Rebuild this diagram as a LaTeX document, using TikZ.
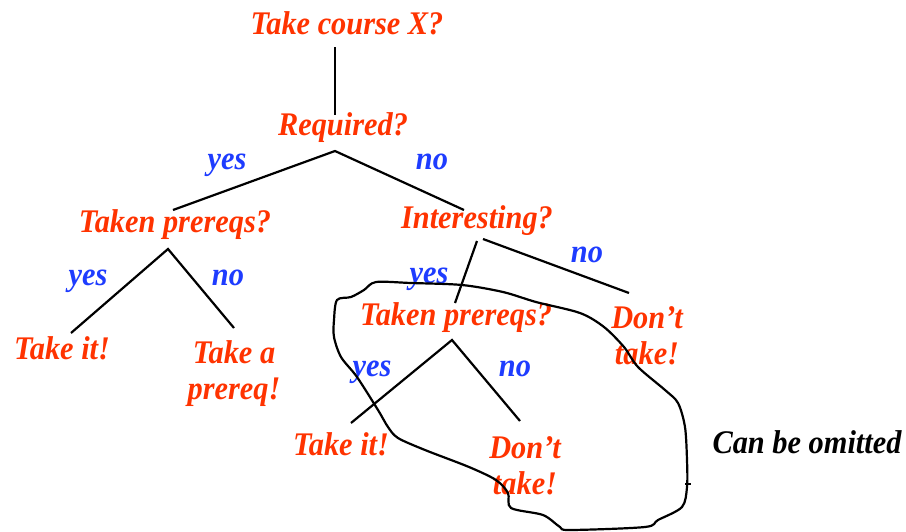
\documentclass[tikz,border=0pt]{standalone}
\usepackage{fontspec}
\newfontfamily\tf{Liberation Serif}[FakeStretch=0.92]
\definecolor{tred}{RGB}{255,51,0}
\definecolor{tblue}{RGB}{30,60,255}
\newcommand{\twol}[2]{\begin{tabular}[t]{@{}c@{}}#1\\#2\end{tabular}}
\begin{document}
\begin{tikzpicture}[x=1pt,y=-1pt,
  every node/.style={inner sep=0pt, outer sep=0pt, anchor=base,
    font=\tf\fontsize{33}{36}\selectfont\bfseries\itshape},
  q/.style={text=tred},
  lbl/.style={text=tblue},
  edge/.style={line width=2.2pt, draw=black},
  blob/.style={line width=2.2pt, draw=black}]
\useasboundingbox (0,0) rectangle (906,531);
% questions and leaves
\node[q] (top) at (347,34) {Take course X?};
\node[q] (req) at (343,135) {Required?};
\node[q] (tp1) at (175,232) {Taken prereqs?};
\node[q] (int) at (477,228) {Interesting?};
\node[q] (tp2) at (456,325) {Taken prereqs?};
\node[q] (dt1) at (647,328) {\twol{Don’t}{take!}};
\node[q] (take1) at (62,359) {Take it!};
\node[q] (takeA) at (234,363) {\twol{Take a}{prereq!}};
\node[q] (take2) at (341,455) {Take it!};
\node[q] (dt2) at (525,458) {\twol{Don’t}{take!}};
\node (omit) at (807,453) {Can be omitted};
% branch labels
\node[lbl] (yes1) at (227,169) {yes};
\node[lbl] (no1) at (432,169) {no};
\node[lbl] (yes2) at (88,285) {yes};
\node[lbl] (no2) at (228,285) {no};
\node[lbl] (yes3) at (429,283) {yes};
\node[lbl] (no3) at (587,262) {no};
\node[lbl] (yes4) at (372,376) {yes};
\node[lbl] (no4) at (515,376) {no};
% connectors
\draw[edge] ([shift={(-12,13)}]top.base) -- ([shift={(-8,-20)}]req.base);
\draw[edge] ([shift={(-2,-22)}]tp1.base) -- ([shift={(-8,16)}]req.base) -- ([shift={(-13,-18)}]int.base);
\draw[edge] ([shift={(0,13)}]int.base) -- ([shift={(-1,-22)}]tp2.base);
\draw[edge] ([shift={(6,11)}]int.base) -- ([shift={(-18,-35)}]dt1.base);
\draw[edge] ([shift={(9,-26)}]take1.base) -- ([shift={(-7,17)}]tp1.base) -- ([shift={(0,-35)}]takeA.base);
\draw[edge] ([shift={(10,-32)}]take2.base) -- ([shift={(-4,15)}]tp2.base) -- ([shift={(-5,-37)}]dt2.base);
% hand-drawn outline
\draw[blob] plot[smooth cycle, tension=0.5] coordinates {
 (376,282) (411,283) (462,285) (503,292) (536,302) (580,313) (604,327)
 (624,347) (638,367) (665,390) (678,403) (685,427) (687,460) (687,487)
 (682,507) (658,520) (645,527) (570,530) (560,527) (543,515) (511,508)
 (508,493) (496,480) (469,467) (425,450) (398,438) (388,427) (378,410)
 (357,377) (341,357) (334,337) (334,320) (337,300) (351,297) (364,290)};
\draw[line width=2.2pt] (685,484) -- (691,484);
\end{tikzpicture}
\end{document}
